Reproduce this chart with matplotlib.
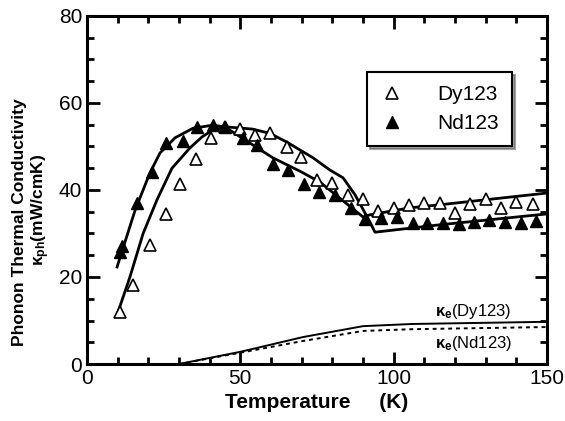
"""Phonon thermal conductivity of Dy123 and Nd123 vs temperature."""

import matplotlib

matplotlib.use("Agg")
import matplotlib.pyplot as plt
from matplotlib.ticker import MultipleLocator

plt.rcParams["font.family"] = ["Liberation Sans", "DejaVu Sans"]
plt.rcParams["mathtext.fontset"] = "custom"
plt.rcParams["mathtext.rm"] = "Liberation Sans:bold"
plt.rcParams["mathtext.it"] = "Liberation Sans:bold"

# measured phonon conductivity (open triangles)
dy_t = [10.8, 15.0, 20.5, 25.8, 30.3, 35.5, 40.4, 45.0, 50.0, 54.8, 59.7, 65.2,
        69.8, 75.0, 80.0, 85.0, 90.0, 95.0, 100.0, 105.0, 110.0, 115.0, 120.0,
        125.0, 130.0, 135.0, 140.0, 145.4]
dy_k = [12.0, 18.2, 27.4, 34.5, 41.4, 47.1, 52.0, 54.5, 54.0, 52.6, 53.1, 49.9,
        47.6, 42.3, 41.6, 38.9, 37.9, 35.2, 35.8, 36.6, 37.0, 37.0, 34.7,
        36.8, 37.9, 35.8, 37.2, 36.8]

# measured phonon conductivity (filled triangles)
nd_t = [10.8, 11.4, 16.3, 21.2, 25.8, 31.3, 35.9, 41.0, 45.0, 50.8, 55.4, 60.6,
        65.5, 70.8, 75.6, 80.9, 86.0, 90.6, 95.9, 101.0, 106.3, 111.0, 116.0,
        121.3, 126.2, 131.0, 136.3, 141.5, 146.4]
nd_k = [25.7, 27.1, 37.0, 44.1, 50.8, 51.3, 54.5, 54.9, 54.5, 52.0, 50.3, 46.0,
        44.6, 41.4, 39.5, 38.9, 35.9, 33.3, 33.5, 33.8, 32.4, 32.4, 32.4,
        32.2, 32.6, 33.1, 32.6, 32.4, 32.9]

# fitted curves
dy_fit_t = [9.8, 14.0, 18.3, 22.8, 27.7, 33.6, 37.5, 41.0, 45.6, 54.0, 59.7,
            65.2, 73.7, 79.2, 83.5, 87.4, 92.3, 93.9, 115.0, 150.0]
dy_fit_k = [11.3, 20.0, 30.0, 37.7, 45.0, 49.7, 52.2, 53.8, 54.5, 54.0, 53.0,
            51.0, 47.4, 44.6, 42.8, 38.9, 32.6, 30.3, 32.0, 34.5]
nd_fit_t = [9.8, 15.7, 20.5, 23.8, 28.7, 34.6, 41.0, 45.0, 50.0, 60.6, 69.5,
            76.0, 90.0, 92.3, 105.3, 115.0, 150.0]
nd_fit_k = [22.3, 35.4, 43.9, 48.5, 52.0, 54.2, 54.9, 54.5, 52.2, 47.4, 44.3,
            41.8, 33.8, 34.3, 35.9, 36.6, 39.3]

# electronic contributions
ke_t = [30.0, 40.0, 50.0, 70.5, 90.0, 106.0, 150.0]
ke_dy = [0.0, 1.4, 2.8, 6.2, 8.7, 9.2, 9.7]
ke_nd = [0.0, 1.3, 2.6, 5.3, 7.6, 8.0, 8.5]

fig = plt.figure(figsize=(5.65, 4.21), dpi=100)
ax = fig.add_axes([87 / 565, 1 - 364 / 421, 460 / 565, 348 / 421])

ax.plot(dy_fit_t, dy_fit_k, color="black", lw=2.0)
ax.plot(nd_fit_t, nd_fit_k, color="black", lw=2.0)
ax.plot(ke_t, ke_dy, color="black", lw=1.4)
ax.plot(ke_t, ke_nd, color="black", lw=1.4, ls=(0, (2, 2)))

ax.plot(dy_t, dy_k, ls="none", marker="^", ms=8, mfc="white", mec="black",
        mew=1.2, label="Dy123")
ax.plot(nd_t, nd_k, ls="none", marker="^", ms=8, mfc="black", mec="black",
        label="Nd123")

ax.text(113.5, 11.0, r"$\kappa_e$(Dy123)", fontsize=12)
ax.text(113.5, 3.6, r"$\kappa_e$(Nd123)", fontsize=12)

ax.set_xlim(0, 150)
ax.set_ylim(0, 80)
ax.xaxis.set_major_locator(MultipleLocator(50))
ax.xaxis.set_minor_locator(MultipleLocator(10))
ax.yaxis.set_major_locator(MultipleLocator(20))
ax.yaxis.set_minor_locator(MultipleLocator(5))
ax.tick_params(which="both", direction="in", top=True, right=True,
               labelsize=15, width=2)
ax.tick_params(which="major", length=9)
ax.tick_params(which="minor", length=5)
for spine in ax.spines.values():
    spine.set_linewidth(2.2)

ax.set_xlabel("Temperature     (K)", fontsize=15, fontweight="bold", labelpad=4)
fig.text(20 / 565, 1 - 222 / 421, "Phonon Thermal Conductivity", rotation=90,
         fontsize=12.5, fontweight="bold", ha="center", va="center")
fig.text(41 / 565, 1 - 210 / 421, r"$\kappa_{ph}$(mW/cmK)", rotation=90,
         fontsize=12.5, fontweight="bold", ha="center", va="center")

leg = ax.legend(loc="upper right", bbox_to_anchor=(0.946, 0.868), fontsize=15,
                frameon=True, fancybox=False, shadow=True, handletextpad=1.6,
                borderpad=0.6, labelspacing=0.5, handlelength=1.2)
leg.get_frame().set_edgecolor("black")
leg.get_frame().set_linewidth(1.5)

fig.savefig("out.png", dpi=100)
